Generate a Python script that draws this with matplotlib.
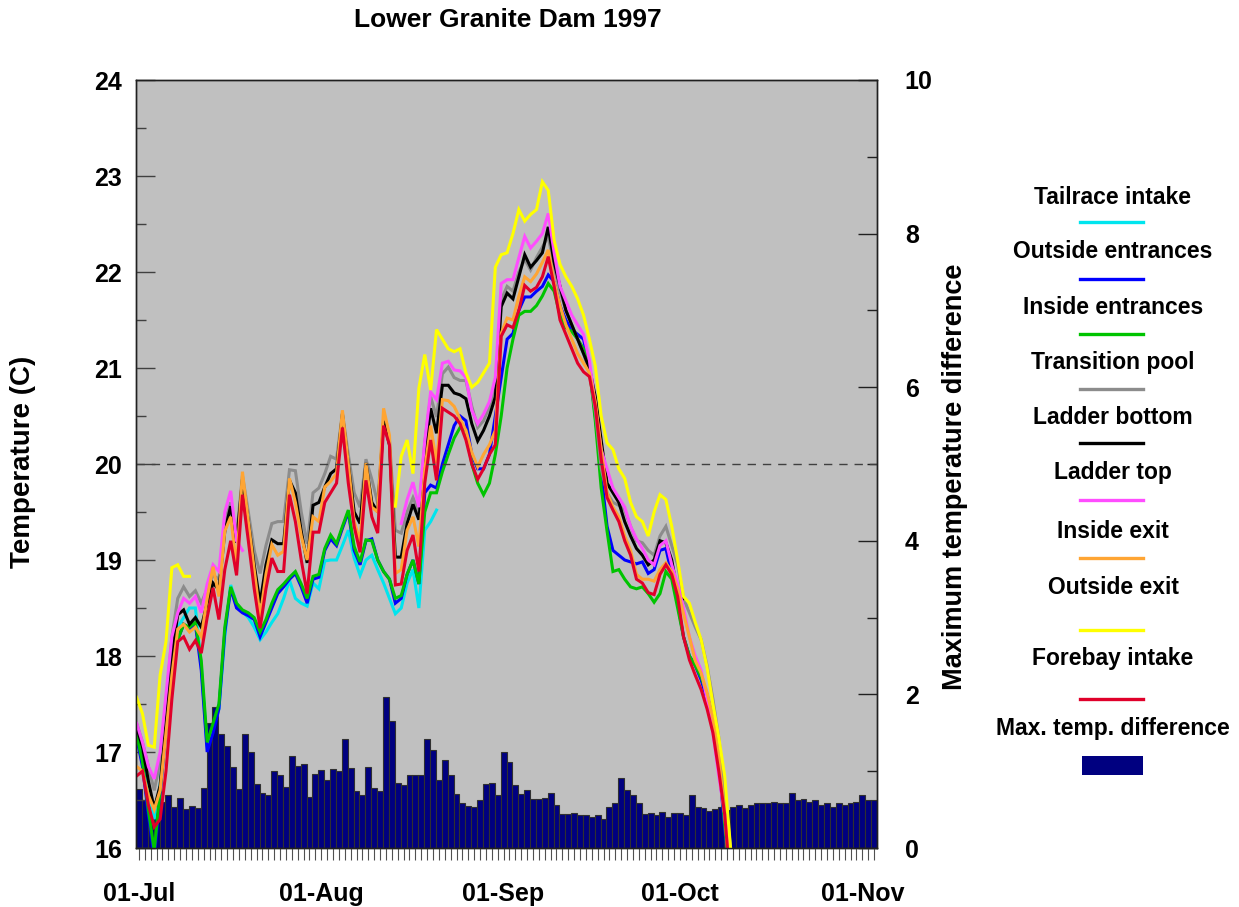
import numpy as np
import pandas as pd
import matplotlib
matplotlib.use('Agg')
import matplotlib.pyplot as plt
from matplotlib.lines import Line2D
from matplotlib.patches import Rectangle

plt.rcParams['font.family'] = ['Liberation Sans', 'DejaVu Sans']
plt.rcParams['font.weight'] = 'bold'

nan = np.nan
start = pd.Timestamp('1997-07-01')
month_labels = ['01-Jul', '01-Aug', '01-Sep', '01-Oct', '01-Nov']
month_dates = ['1997-07-01', '1997-08-01', '1997-09-01', '1997-10-01', '1997-11-01']

# daily maximum temperature difference, 01-Jul .. 03-Nov
max_diff = [
    0.77, 0.62, 0.55, 0.60, 0.60, 0.69, 0.54, 0.65, 0.51, 0.55,
    0.52, 0.78, 1.63, 1.84, 1.49, 1.33, 1.06, 0.77, 1.48, 1.25,
    0.83, 0.72, 0.69, 1.00, 0.95, 0.80, 1.20, 1.07, 1.10, 0.66,
    0.96, 1.02, 0.89, 1.03, 1.00, 1.42, 1.04, 0.74, 0.69, 1.06,
    0.78, 0.74, 1.97, 1.65, 0.84, 0.82, 0.95, 0.95, 0.95, 1.42,
    1.28, 0.89, 1.15, 0.95, 0.70, 0.58, 0.55, 0.54, 0.63, 0.83,
    0.85, 0.69, 1.25, 1.12, 0.82, 0.70, 0.76, 0.64, 0.64, 0.65,
    0.72, 0.56, 0.44, 0.44, 0.46, 0.43, 0.43, 0.40, 0.43, 0.38,
    0.53, 0.58, 0.91, 0.75, 0.69, 0.58, 0.44, 0.45, 0.43, 0.47,
    0.40, 0.45, 0.45, 0.43, 0.69, 0.53, 0.52, 0.48, 0.51, 0.54,
    0.50, 0.54, 0.56, 0.52, 0.56, 0.59, 0.58, 0.58, 0.60, 0.59,
    0.59, 0.72, 0.63, 0.64, 0.60, 0.63, 0.56, 0.58, 0.53, 0.58,
    0.56, 0.59, 0.60, 0.69, 0.63, 0.63,
]

# temperature series, 30-Jun .. 10-Oct (daily)
tailrace = [
    17.2, 16.95, 16.6, 16.3, 16.65, 17.3, 17.9, 18.3, 18.4, 18.5,
    18.5, 17.9, 17.05, 17.25, 17.45, 18.2, 18.74, 18.55, 18.46, 18.4,
    18.3, 18.17, 18.25, 18.35, 18.44, 18.6, 18.79, 18.6, 18.55, 18.52,
    18.76, 18.7, 18.99, 19.0, 19.0, 19.15, 19.31, 19.02, 18.84, 19.0,
    19.05, 18.9, 18.76, 18.6, 18.44, 18.5, 18.76, 18.9, 18.5, 19.31,
    19.4, 19.52, nan, nan, nan, nan, nan, nan, nan, nan,
    nan, nan, nan, nan, nan, nan, nan, nan, nan, nan,
    nan, nan, nan, nan, nan, nan, nan, nan, nan, nan,
    nan, nan, nan, nan, nan, nan, nan, nan, nan, nan,
    nan, nan, nan, nan, nan, nan, nan, nan, nan, nan,
    nan, nan, nan,
]
outside_entr = [
    17.15, 16.85, 16.35, 15.9, 16.55, 17.25, 17.85, 18.17, 18.33, 18.28,
    18.33, 17.85, 17.0, 17.2, 17.45, 18.25, 18.7, 18.5, 18.45, 18.42,
    18.38, 18.2, 18.35, 18.5, 18.65, 18.72, 18.8, 18.86, 18.72, 18.55,
    18.8, 18.82, 19.1, 19.22, 19.15, 19.33, 19.5, 19.1, 18.95, 19.2,
    19.22, 19.0, 18.88, 18.8, 18.55, 18.6, 18.85, 19.0, 18.75, 19.7,
    19.78, 19.75, 20.0, 20.2, 20.4, 20.5, 20.45, 20.1, 19.95, 19.95,
    20.1, 20.5, 20.9, 21.3, 21.36, 21.6, 21.74, 21.74, 21.8, 21.85,
    21.97, 21.9, 21.65, 21.5, 21.4, 21.35, 21.3, 21.0, 20.5, 19.9,
    19.35, 19.1, 19.05, 19.0, 18.98, 18.96, 18.98, 18.86, 18.9, 19.1,
    19.12, 18.85, 18.55, 18.2, 18.0, 17.9, 17.75, 17.55, 17.3, 16.9,
    16.2, 15.6, 15.0,
]
inside_entr = [
    17.18, 16.9, 16.4, 15.97, 16.6, 17.3, 17.9, 18.17, 18.33, 18.3,
    18.35, 17.95, 17.1, 17.3, 17.5, 18.3, 18.72, 18.55, 18.48, 18.45,
    18.4, 18.25, 18.38, 18.55, 18.69, 18.75, 18.82, 18.88, 18.75, 18.6,
    18.83, 18.85, 19.12, 19.26, 19.17, 19.35, 19.52, 19.14, 18.98, 19.21,
    19.2, 19.0, 18.88, 18.8, 18.6, 18.63, 18.85, 19.0, 18.75, 19.5,
    19.7, 19.7, 19.92, 20.1, 20.27, 20.38, 20.35, 20.0, 19.8, 19.68,
    19.8, 20.1, 20.5, 21.0, 21.3, 21.55, 21.59, 21.59, 21.65, 21.75,
    21.88, 21.8, 21.55, 21.42, 21.38, 21.3, 21.2, 21.0, 20.45, 19.75,
    19.3, 18.88, 18.9, 18.8, 18.72, 18.7, 18.72, 18.65, 18.56, 18.65,
    18.88, 18.8, 18.5, 18.2, 18.0, 17.9, 17.78, 17.6, 17.35, 16.95,
    16.25, 15.6, 15.0,
]
transition_pool = [
    17.3, 17.1, 16.85, 16.6, 16.9, 17.5, 18.2, 18.6, 18.72, 18.62,
    18.68, 18.55, 18.7, 18.84, 18.8, 19.4, 19.6, 19.25, 19.88, 19.5,
    19.1, 18.86, 19.15, 19.38, 19.4, 19.4, 19.94, 19.93, 19.5, 19.17,
    19.7, 19.75, 19.9, 20.08, 20.05, 20.53, 20.1, 19.7, 19.55, 20.05,
    19.84, 19.59, 20.45, 20.25, 19.31, 19.28, 19.5, 19.65, 19.5, 20.22,
    20.7, 20.49, 20.94, 21.01, 20.9, 20.87, 20.87, 20.6, 20.38, 20.45,
    20.6, 20.8, 21.71, 21.85, 21.8, 22.0, 22.13, 22.02, 22.15, 22.26,
    22.37, 22.05, 21.8, 21.6, 21.45, 21.3, 21.15, 20.95, 20.55, 19.95,
    19.7, 19.6, 19.57, 19.52, 19.35, 19.2, 19.18, 19.1, 19.05, 19.25,
    19.35, 19.15, 18.95, 18.6, 18.45, 18.3, 18.17, 17.9, 17.55, 17.15,
    16.6, 16.0, 15.4,
]
ladder_bottom = [
    17.26, 17.05, 16.7, 16.41, 16.65, 17.3, 18.0, 18.43, 18.48, 18.33,
    18.4, 18.3, 18.55, 18.76, 18.69, 19.3, 19.56, 19.18, 19.84, 19.4,
    18.95, 18.55, 18.95, 19.21, 19.17, 19.17, 19.83, 19.7, 19.3, 18.97,
    19.57, 19.6, 19.76, 19.9, 19.95, 20.52, 20.0, 19.5, 19.38, 20.01,
    19.6, 19.5, 20.45, 20.2, 19.03, 19.03, 19.38, 19.58, 19.42, 20.08,
    20.58, 20.32, 20.82, 20.82, 20.74, 20.72, 20.68, 20.42, 20.24, 20.35,
    20.5, 20.7, 21.64, 21.78, 21.72, 21.95, 22.18, 22.05, 22.12, 22.2,
    22.47, 22.1, 21.85, 21.6, 21.45, 21.3, 21.15, 21.0, 20.7, 20.25,
    19.8, 19.7, 19.6, 19.4, 19.25, 19.12, 19.05, 18.95, 19.0, 19.2,
    19.18, 19.0, 18.65, 18.6, nan, nan, nan, nan, nan, nan,
    nan, nan, nan,
]
ladder_top = [
    17.3, 17.1, 16.85, 16.72, 17.0, 17.6, 18.2, 18.45, 18.6, 18.55,
    18.62, 18.45, 18.75, 18.95, 18.88, 19.5, 19.72, 19.2, 19.1, nan,
    nan, nan, nan, nan, nan, nan, nan, nan, nan, nan,
    nan, nan, nan, nan, nan, nan, nan, nan, nan, nan,
    nan, nan, nan, nan, nan, 19.38, 19.63, 19.81, 19.55, 20.24,
    20.75, 20.67, 21.05, 21.07, 20.98, 20.97, 20.9, 20.56, 20.42, 20.52,
    20.65, 20.9, 21.88, 21.92, 21.92, 22.15, 22.37, 22.25, 22.32, 22.4,
    22.61, 22.2, 21.85, 21.7, 21.55, 21.45, 21.35, 21.08, 20.6, 20.15,
    19.95, 19.75, 19.65, 19.55, 19.35, 19.22, 19.12, 19.0, 18.95, 19.15,
    19.2, 18.95, 18.75, 18.5, 18.2, 18.0, 17.85, 17.55, 17.2, 16.75,
    16.35, 15.9, 15.3,
]
inside_exit = [
    16.85, 16.8, 16.55, 16.4, 16.6, 17.2, 17.8, 18.28, 18.33, 18.25,
    18.3, 18.2, 18.6, 18.93, 18.62, 19.3, 19.45, 18.93, 19.92, 19.4,
    18.9, 18.41, 18.85, 19.16, 19.05, 19.09, 19.85, 19.6, 19.25, 19.0,
    19.45, 19.4, 19.76, 19.82, 19.9, 20.56, 20.0, 19.4, 19.2, 20.01,
    19.55, 19.5, 20.58, 20.3, 18.86, 18.9, 19.31, 19.45, 19.14, 19.94,
    20.4, 20.01, 20.67, 20.66, 20.6, 20.47, 20.35, 20.12, 19.97, 20.1,
    20.2, 20.35, 21.36, 21.52, 21.5, 21.75, 21.95, 21.9, 21.98, 22.1,
    22.23, 21.9, 21.65, 21.45, 21.3, 21.15, 21.05, 20.95, 20.65, 20.15,
    19.7, 19.55, 19.45, 19.25, 19.1, 18.85, 18.8, 18.8, 18.78, 18.9,
    18.97, 18.88, 18.7, 18.44, 18.2, 17.95, 17.82, 17.62, 17.35, 16.95,
    16.35, 15.6, 15.0,
]
outside_exit = [
    17.57, 17.4, 17.07, 17.05, 17.8, 18.15, 18.92, 18.95, 18.83, 18.83,
    nan, nan, nan, nan, nan, nan, nan, nan, nan, nan,
    nan, nan, nan, nan, nan, nan, nan, nan, nan, nan,
    nan, nan, nan, nan, nan, nan, nan, nan, nan, nan,
    nan, nan, nan, nan, 19.56, 20.08, 20.25, 19.9, 20.79, 21.14,
    20.77, 21.4, 21.3, 21.2, 21.17, 21.2, 20.95, 20.8, 20.85, 20.95,
    21.05, 22.05, 22.18, 22.2, 22.4, 22.65, 22.53, 22.6, 22.65, 22.94,
    22.85, 22.33, 22.08, 21.95, 21.85, 21.72, 21.55, 21.3, 21.02, 20.5,
    20.22, 20.15, 19.95, 19.85, 19.6, 19.45, 19.4, 19.25, 19.5, 19.68,
    19.63, 19.35, 19.0, 18.62, 18.55, 18.35, 18.17, 17.88, 17.5, 17.15,
    16.75, 16.0, 15.3,
]
forebay = [
    16.75, 16.8, 16.45, 16.22, 16.3, 16.8, 17.55, 18.15, 18.2, 18.07,
    18.16, 18.03, 18.4, 18.71, 18.38, 18.9, 19.2, 18.84, 19.68, 19.2,
    18.7, 18.29, 18.7, 19.02, 18.88, 18.88, 19.68, 19.4, 19.0, 18.65,
    19.29, 19.29, 19.6, 19.7, 19.8, 20.38, 19.8, 19.35, 19.08, 19.83,
    19.45, 19.28, 20.4, 20.2, 18.74, 18.75, 19.1, 19.26, 18.88, 19.8,
    20.25, 19.83, 20.58, 20.54, 20.5, 20.42, 20.25, 20.0, 19.84, 19.95,
    20.1, 20.2, 21.33, 21.45, 21.42, 21.6, 21.86, 21.8, 21.84, 21.95,
    22.16, 21.85, 21.5, 21.35, 21.2, 21.05, 20.96, 20.91, 20.6, 20.05,
    19.65, 19.52, 19.4, 19.2, 19.05, 18.8, 18.76, 18.66, 18.64, 18.85,
    18.95, 18.85, 18.62, 18.2, 17.96, 17.8, 17.65, 17.45, 17.2, 16.8,
    16.35, 15.6, 15.0,
]

series = [
    ('Tailrace intake', tailrace, '#00e5ee'),
    ('Outside entrances', outside_entr, '#0000ff'),
    ('Inside entrances', inside_entr, '#00c400'),
    ('Transition pool', transition_pool, '#8c8c8c'),
    ('Ladder bottom', ladder_bottom, '#000000'),
    ('Ladder top', ladder_top, '#ff4dff'),
    ('Inside exit', inside_exit, '#ffa533'),
    ('Outside exit', outside_exit, '#ffff00'),
    ('Forebay intake', forebay, '#e0002a'),
]

W, H = 1239, 907
fig = plt.figure(figsize=(W / 100, H / 100), dpi=100, facecolor='white')
ax = fig.add_axes([136 / W, 1 - 848 / H, 741 / W, 768 / H])
ax2 = ax.twinx()
ax.set_zorder(ax2.get_zorder() + 1)
ax.patch.set_visible(False)
ax2.patch.set_visible(True)
ax2.set_facecolor('#c0c0c0')

# bars (right axis)
bx = np.arange(len(max_diff))
ax2.bar(bx, max_diff, width=1.0, color='#000080', edgecolor='#303030', linewidth=0.8)
ax2.set_ylim(0, 10)
ax2.set_yticks([0, 2, 4, 6, 8, 10])
ax2.set_yticks([1, 3, 5, 7, 9], minor=True)

# temperature lines (left axis)
lx = np.arange(-1, len(forebay) - 1) + 0.6
for name, vals, col in series:
    ax.plot(lx, vals, color=col, linewidth=2.2, solid_joinstyle='miter')
ax.axhline(20, color='#404040', linewidth=1.0, linestyle=(0, (6, 5)))
ax.set_ylim(16, 24)
ax.set_xlim(-0.5, len(max_diff) - 0.5)
ax.set_yticks(np.arange(16, 25))
ax.set_yticks(np.arange(16.5, 24, 1.0), minor=True)

# x axis: one tick per day, month labels
month_pos = [(pd.Timestamp(d) - start).days for d in month_dates]
ax.set_xticks(bx)
ax.set_xticklabels([month_labels[month_pos.index(i)] if i in month_pos else '' for i in bx])
ax.tick_params(axis='x', direction='out', length=8.5, width=0.8, color='#505050',
               labelsize=18, pad=16)
ax2.tick_params(axis='x', bottom=False)

ax.tick_params(axis='y', which='major', direction='in', length=14, width=1, color='#404040',
               labelsize=18, pad=10)
ax.tick_params(axis='y', which='minor', direction='in', length=7, width=1, color='#404040')
ax2.tick_params(axis='y', which='major', direction='in', length=14, width=1, color='#202020',
                labelsize=18, pad=20)
ax2.tick_params(axis='y', which='minor', direction='in', length=7, width=1, color='#202020')

for a in (ax, ax2):
    for s in a.spines.values():
        s.set_color('#202020')
        s.set_linewidth(1.0)

fig.text(508 / W, 1 - 20 / H, 'Lower Granite Dam 1997', ha='center', va='center',
         fontsize=19, fontweight='bold')
fig.text(23 / W, 1 - 462 / H, 'Temperature (C)', rotation=90, ha='center', va='center',
         fontsize=20, fontweight='bold')
fig.text(955 / W, 1 - 477 / H, 'Maximum temperature difference', rotation=90,
         ha='center', va='center', fontsize=19.5, fontweight='bold')

# legend on the right, text above the sample
text_y = [197, 252, 308, 363, 417, 473, 532, 588, 658]
line_y = [222, 279, 334, 389, 443, 500, 558, 630, 699]
for (name, vals, col), ty, ly in zip(series, text_y, line_y):
    fig.text(1113 / W, 1 - ty / H, name, ha='center', va='center', fontsize=16.5,
             fontweight='bold')
    fig.add_artist(Line2D([1080 / W, 1143 / W], [1 - ly / H, 1 - ly / H], color=col,
                          linewidth=2.4, transform=fig.transFigure))
fig.text(1113 / W, 1 - 728 / H, 'Max. temp. difference', ha='center', va='center',
         fontsize=16.5, fontweight='bold')
fig.add_artist(Rectangle((1082 / W, 1 - 775 / H), 61 / W, 19 / H, facecolor='#000080',
                         edgecolor='none', transform=fig.transFigure))

fig.savefig('out.png', dpi=100, facecolor='white')
